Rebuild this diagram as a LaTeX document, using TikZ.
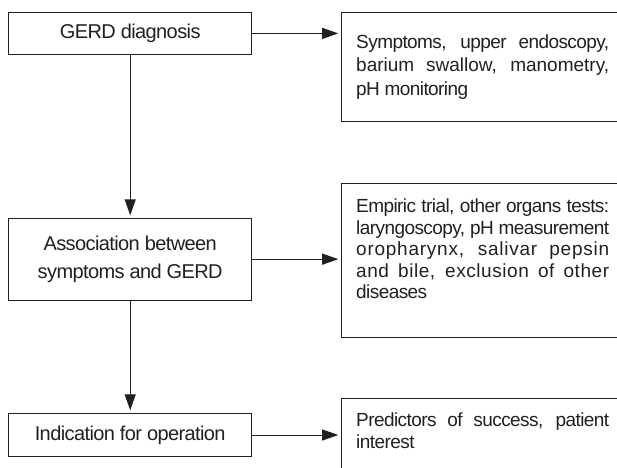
\documentclass[tikz,border=0pt]{standalone}
\usepackage{fontspec}
\setmainfont{Liberation Sans}[LetterSpace=-3]
\usetikzlibrary{arrows.meta}
\definecolor{ink}{HTML}{231F20}
\begin{document}
\begin{tikzpicture}[x=1pt,y=-1pt,
  lbox/.style={draw=ink, line width=1pt, minimum width=243pt, inner sep=0pt,
    font=\fontsize{20}{28.3}\selectfont, align=center, text=ink},
  rbox/.style={draw=ink, line width=1pt, minimum width=320pt, anchor=north west, inner sep=0pt},
  rtext/.style={anchor=base west, inner sep=0pt, text=ink, font=\fontsize{19}{21.5}\selectfont},
  arr/.style={draw=ink, line width=1pt, -{Triangle[length=16pt,width=11pt]}, shorten >=2.5pt}]
\useasboundingbox (0,0) rectangle (617,467);
\clip (0,0) rectangle (617,467);
% left column
\node[lbox, minimum height=42.2pt] (a) at (130.2,33.4) {GERD diagnosis};
\node[lbox, minimum height=81.7pt] (b) at (130.2,259.15) {Association between\\symptoms and GERD};
\node[lbox, minimum height=43.4pt] (c) at (130.2,435) {Indication for operation};
% right column boxes (open to the right edge)
\node[rbox, minimum height=108.7pt] (ra) at (340.7,12.3) {};
\node[rbox, minimum height=153.4pt] (rb) at (340.7,183.3) {};
\node[rbox, minimum height=100pt] (rc) at (340.7,398.3) {};
% right column texts
\node[rtext, font=\fontsize{19}{23.5}\selectfont] (ta) at (356,48.3) {\parbox[t]{253pt}{Symptoms, upper endoscopy,\linebreak
  {\addfontfeature{LetterSpace=0}barium swallow, manometry,}\linebreak pH monitoring}};
\node[rtext] (tb) at (356,212.7) {\parbox[t]{253pt}{Empiric trial, other organs tests:\linebreak
  laryngoscopy, pH measurement\linebreak
  {\addfontfeature{LetterSpace=4}oropharynx, salivar pepsin}\linebreak
  {\addfontfeature{LetterSpace=3}and bile, exclusion of other}\linebreak
  diseases}};
\node[rtext] (tc) at (356,426.7) {\parbox[t]{253pt}{Predictors of success, patient\linebreak interest}};
% connectors
\draw[arr] (a.east) -- (a.east -| ra.west);
\draw[arr] (b.east) -- (b.east -| rb.west);
\draw[arr] (c.east) -- (c.east -| rc.west);
\draw[arr] (a.south) -- (b.north);
\draw[arr] (b.south) -- (c.north);
\end{tikzpicture}
\end{document}
